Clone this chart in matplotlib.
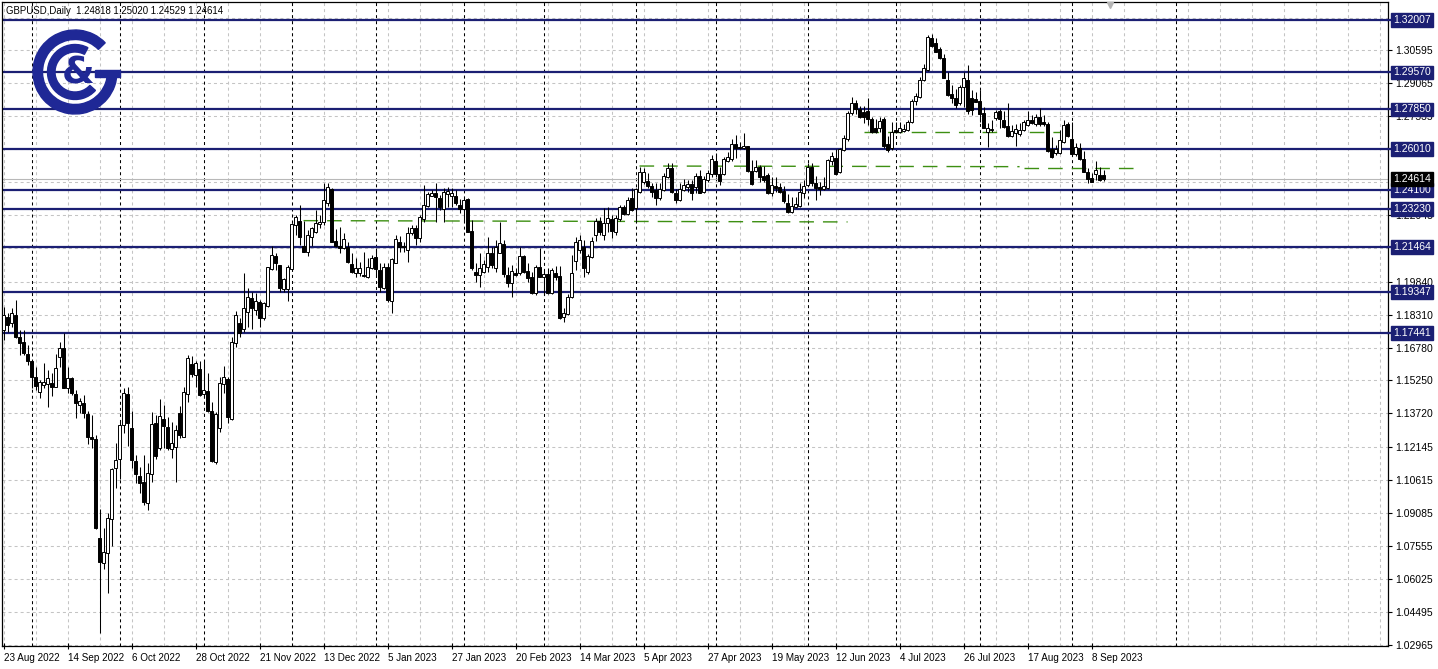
import matplotlib
matplotlib.use("Agg")
import matplotlib.pyplot as plt
from matplotlib.patches import Wedge, Rectangle
from matplotlib.transforms import offset_copy

# ---------------- data (GBPUSD daily, bar index 0 = 23 Aug 2022) ----------------
opens = [
1.1760,1.1821,1.1791,1.1830,1.1728,1.1705,1.1648,1.1617,1.1540,1.1473,
1.1505,1.1508,1.1512,1.1493,1.1633,1.1674,1.1488,1.1535,1.1462,1.1409,
1.1419,1.1369,1.1263,1.1251,1.0791,1.0678,1.0724,1.0879,1.1116,1.1158,
1.1318,1.1462,1.1302,1.1152,1.1081,1.1054,1.0956,1.1090,1.1326,1.1209,
1.1344,1.1310,1.1205,1.1217,1.1375,1.1263,1.1462,1.1601,1.1550,1.1577,
1.1462,1.1477,1.1384,1.1147,1.1302,1.1508,1.1530,1.1344,1.1698,1.1792,
1.1763,1.1845,1.1907,1.1853,1.1891,1.1814,1.1871,1.2042,1.2104,1.2062,
1.1949,1.1949,1.2042,1.2248,1.2268,1.2150,1.2124,1.2193,1.2217,1.2252,
1.2263,1.2349,1.2414,1.2175,1.2150,1.2139,1.2147,1.2066,1.2023,1.2023,
1.2015,1.2005,1.2046,1.2097,1.2039,1.1953,1.2054,1.1896,1.2072,1.2170,
1.2150,1.2132,1.2209,1.2232,1.2186,1.2274,1.2336,1.2383,1.2395,1.2372,
1.2321,1.2392,1.2383,1.2383,1.2341,1.2321,1.2367,1.2221,1.2031,1.2015,
1.2031,1.2054,1.2119,1.2046,1.2119,1.2159,1.2015,1.1980,1.2026,1.2026,
1.2104,1.2035,1.2005,1.1930,1.2054,1.2007,1.2020,1.1930,1.2023,1.2011,
1.1821,1.1834,1.1912,1.2082,1.2132,1.2144,1.2031,1.2097,1.2201,1.2268,
1.2201,1.2256,1.2274,1.2217,1.2274,1.2330,1.2299,1.2372,1.2325,1.2403,
1.2449,1.2454,1.2429,1.2411,1.2372,1.2411,1.2470,1.2511,1.2395,1.2364,
1.2411,1.2426,1.2438,1.2426,1.2476,1.2403,1.2457,1.2485,1.2547,1.2485,
1.2485,1.2547,1.2553,1.2624,1.2612,1.2604,1.2615,1.2500,1.2500,1.2519,
1.2476,1.2480,1.2398,1.2429,1.2423,1.2407,1.2351,1.2310,1.2330,1.2336,
1.2398,1.2434,1.2516,1.2444,1.2423,1.2414,1.2418,1.2547,1.2558,1.2496,
1.2597,1.2646,1.2770,1.2814,1.2786,1.2775,1.2779,1.2739,1.2697,1.2697,
1.2739,1.2624,1.2604,1.2690,1.2679,1.2685,1.2690,1.2725,1.2824,1.2844,
1.2922,1.2969,1.3119,1.3093,1.3066,1.3026,1.2922,1.2856,1.2837,1.2814,
1.2891,1.2922,1.2837,1.2834,1.2824,1.2767,1.2679,1.2690,1.2744,1.2778,
1.2736,1.2709,1.2663,1.2674,1.2669,1.2690,1.2713,1.2736,1.2716,1.2751,
1.2728,1.2716,1.2601,1.2581,1.2581,1.2632,1.2716,1.2648,1.2576,1.2607,
1.2555,1.2496,1.2468,1.2483,1.2480,1.24818]

highs = [
1.1868,1.1838,1.1860,1.1899,1.1760,1.1760,1.1690,1.1620,1.1586,1.1527,
1.1605,1.1574,1.1558,1.1648,1.1705,1.1744,1.1586,1.1542,1.1481,1.1442,
1.1457,1.1384,1.1364,1.1271,1.0926,1.0837,1.0910,1.1116,1.1233,1.1333,
1.1488,1.1493,1.1384,1.1178,1.1124,1.1178,1.1142,1.1380,1.1364,1.1437,
1.1411,1.1356,1.1333,1.1318,1.1406,1.1496,1.1643,1.1639,1.1617,1.1617,
1.1617,1.1561,1.1426,1.1380,1.1542,1.1592,1.1542,1.1726,1.1849,1.1815,
1.2023,1.1953,1.1938,1.1930,1.1899,1.1891,1.2054,1.2150,1.2116,1.2062,
1.2000,1.2062,1.2256,1.2294,1.2341,1.2268,1.2225,1.2240,1.2318,1.2294,
1.2444,1.2444,1.2418,1.2228,1.2237,1.2209,1.2170,1.2116,1.2093,1.2077,
1.2124,1.2093,1.2108,1.2139,1.2070,1.2070,1.2070,1.2093,1.2201,1.2197,
1.2170,1.2240,1.2248,1.2248,1.2294,1.2434,1.2403,1.2411,1.2442,1.2387,
1.2418,1.2426,1.2418,1.2411,1.2367,1.2372,1.2372,1.2271,1.2070,1.2116,
1.2085,1.2191,1.2144,1.2178,1.2263,1.2178,1.2051,1.2062,1.2046,1.2144,
1.2108,1.2070,1.2031,1.2062,1.2139,1.2035,1.2046,1.2046,1.2057,1.2057,
1.1860,1.1927,1.2108,1.2193,1.2201,1.2178,1.2113,1.2193,1.2279,1.2284,
1.2325,1.2333,1.2294,1.2294,1.2341,1.2341,1.2379,1.2418,1.2418,1.2519,
1.2511,1.2488,1.2444,1.2442,1.2442,1.2488,1.2535,1.2537,1.2414,1.2442,
1.2460,1.2457,1.2457,1.2488,1.2504,1.2476,1.2504,1.2573,1.2581,1.2519,
1.2563,1.2589,1.2646,1.2666,1.2635,1.2677,1.2615,1.2550,1.2550,1.2527,
1.2522,1.2488,1.2470,1.2470,1.2442,1.2429,1.2392,1.2379,1.2377,1.2442,
1.2457,1.2535,1.2535,1.2476,1.2449,1.2472,1.2553,1.2589,1.2600,1.2604,
1.2666,1.2779,1.2842,1.2829,1.2801,1.2801,1.2837,1.2751,1.2739,1.2751,
1.2749,1.2662,1.2728,1.2728,1.2727,1.2716,1.2736,1.2834,1.2860,1.2937,
1.2995,1.3131,1.3134,1.3119,1.3077,1.3041,1.2961,1.2899,1.2880,1.2899,
1.2958,1.2992,1.2876,1.2868,1.2876,1.2798,1.2721,1.2736,1.2783,1.2787,
1.2778,1.2814,1.2713,1.2716,1.2721,1.2736,1.2778,1.2759,1.2762,1.2793,
1.2759,1.2728,1.2658,1.2620,1.2690,1.2736,1.2725,1.2725,1.2628,1.2628,
1.2592,1.2514,1.2488,1.2545,1.2519,1.25020]

lows = [
1.1713,1.1752,1.1775,1.1721,1.1643,1.1643,1.1597,1.1488,1.1481,1.1442,
1.1488,1.1400,1.1453,1.1493,1.1586,1.1488,1.1465,1.1457,1.1349,1.1375,
1.1349,1.1229,1.1209,1.0833,1.0352,1.0647,1.0535,1.0755,1.1023,1.1065,
1.1279,1.1220,1.1116,1.1050,1.1000,1.0946,1.0923,1.1054,1.1158,1.1202,
1.1209,1.1202,1.1163,1.1054,1.1256,1.1263,1.1426,1.1542,1.1496,1.1453,
1.1449,1.1380,1.1147,1.1136,1.1287,1.1465,1.1328,1.1341,1.1682,1.1727,
1.1750,1.1775,1.1763,1.1829,1.1775,1.1806,1.1868,1.2039,1.2039,1.1938,
1.1938,1.1896,1.2039,1.2201,1.2155,1.2124,1.2104,1.2150,1.2209,1.2232,
1.2248,1.2336,1.2170,1.2147,1.2119,1.2135,1.2072,1.2023,1.2005,1.2011,
1.2007,1.2000,1.2042,1.2007,1.1938,1.1949,1.1891,1.1837,1.2070,1.2124,
1.2124,1.2077,1.2201,1.2155,1.2170,1.2263,1.2333,1.2383,1.2263,1.2318,
1.2263,1.2333,1.2333,1.2341,1.2302,1.2263,1.2217,1.2039,1.1984,1.1958,
1.2023,1.2031,1.2046,1.2031,1.2116,1.2007,1.1961,1.1912,1.2011,1.2015,
1.2026,1.1984,1.1927,1.1922,1.2005,1.1922,1.1927,1.1927,1.1992,1.1809,
1.1798,1.1829,1.1907,1.2039,1.2116,1.2005,1.2020,1.2093,1.2175,1.2201,
1.2178,1.2217,1.2186,1.2201,1.2268,1.2294,1.2294,1.2314,1.2263,1.2398,
1.2438,1.2418,1.2377,1.2341,1.2364,1.2407,1.2465,1.2398,1.2349,1.2361,
1.2407,1.2403,1.2364,1.2398,1.2395,1.2398,1.2449,1.2472,1.2470,1.2434,
1.2480,1.2542,1.2547,1.2558,1.2600,1.2600,1.2496,1.2434,1.2496,1.2449,
1.2449,1.2392,1.2383,1.2403,1.2398,1.2349,1.2302,1.2305,1.2325,1.2333,
1.2372,1.2429,1.2429,1.2364,1.2387,1.2411,1.2414,1.2527,1.2480,1.2491,
1.2593,1.2640,1.2759,1.2764,1.2744,1.2721,1.2713,1.2677,1.2677,1.2682,
1.2604,1.2589,1.2597,1.2674,1.2674,1.2682,1.2685,1.2721,1.2806,1.2840,
1.2917,1.2964,1.3077,1.3051,1.3020,1.2930,1.2849,1.2814,1.2793,1.2806,
1.2798,1.2763,1.2759,1.2818,1.2728,1.2697,1.2612,1.2679,1.2736,1.2697,
1.2700,1.2658,1.2658,1.2616,1.2663,1.2685,1.2710,1.2716,1.2710,1.2710,
1.2710,1.2586,1.2561,1.2573,1.2577,1.2628,1.2658,1.2573,1.2570,1.2550,
1.2493,1.2442,1.2446,1.2457,1.2452,1.24529]

closes = [
1.1830,1.1783,1.1837,1.1728,1.1700,1.1651,1.1617,1.1540,1.1499,1.1518,
1.1518,1.1535,1.1493,1.1581,1.1677,1.1488,1.1535,1.1465,1.1419,1.1431,
1.1375,1.1263,1.1251,1.0837,1.0682,1.0729,1.0884,1.1112,1.1155,1.1318,
1.1468,1.1326,1.1155,1.1090,1.1050,1.0961,1.1096,1.1322,1.1174,1.1360,
1.1313,1.1209,1.1233,1.1295,1.1271,1.1473,1.1628,1.1555,1.1607,1.1457,
1.1481,1.1384,1.1152,1.1369,1.1512,1.1540,1.1354,1.1705,1.1830,1.1746,
1.1860,1.1914,1.1860,1.1896,1.1814,1.1884,1.2051,1.2108,1.2072,1.1953,
1.1995,1.2054,1.2252,1.2284,1.2193,1.2124,1.2201,1.2232,1.2256,1.2263,
1.2364,1.2426,1.2170,1.2150,1.2139,1.2181,1.2077,1.2031,1.2046,1.2046,
1.2011,1.2051,1.2093,1.2042,1.1961,1.2054,1.1899,1.2088,1.2181,1.2144,
1.2144,1.2209,1.2232,1.2186,1.2286,1.2341,1.2392,1.2398,1.2377,1.2330,
1.2403,1.2407,1.2398,1.2349,1.2321,1.2364,1.2217,1.2046,1.2015,1.2046,
1.2066,1.2116,1.2062,1.2144,1.2163,1.2020,1.1977,1.2035,1.2015,1.2104,
1.2031,1.2000,1.1930,1.2054,1.2007,1.2020,1.1933,1.2039,1.2007,1.1814,
1.1837,1.1912,1.2023,1.2170,1.2178,1.2046,1.2104,1.2175,1.2268,1.2217,
1.2258,1.2279,1.2221,1.2279,1.2330,1.2299,1.2364,1.2318,1.2414,1.2496,
1.2496,1.2429,1.2403,1.2372,1.2414,1.2476,1.2511,1.2403,1.2364,1.2414,
1.2434,1.2438,1.2398,1.2476,1.2398,1.2460,1.2488,1.2553,1.2485,1.2454,
1.2553,1.2563,1.2624,1.2604,1.2604,1.2615,1.2500,1.2438,1.2519,1.2472,
1.2457,1.2398,1.2434,1.2418,1.2403,1.2361,1.2310,1.2336,1.2345,1.2403,
1.2429,1.2516,1.2444,1.2418,1.2414,1.2429,1.2550,1.2569,1.2485,1.2600,
1.2651,1.2770,1.2814,1.2786,1.2751,1.2751,1.2739,1.2682,1.2682,1.2733,
1.2615,1.2597,1.2682,1.2680,1.2697,1.2694,1.2728,1.2824,1.2849,1.2922,
1.2979,1.3123,1.3081,1.3054,1.3023,1.2933,1.2852,1.2837,1.2806,1.2891,
1.2933,1.2778,1.2783,1.2821,1.2762,1.2700,1.2700,1.2696,1.2775,1.2741,
1.2705,1.2663,1.2685,1.2694,1.2690,1.2725,1.2736,1.2721,1.2751,1.2716,
1.2716,1.2592,1.2565,1.2601,1.2643,1.2713,1.2663,1.2576,1.2612,1.2555,
1.2496,1.2462,1.2449,1.2504,1.2457,1.24614]

date_labels = ["23 Aug 2022", "14 Sep 2022", "6 Oct 2022", "28 Oct 2022", "21 Nov 2022",
               "13 Dec 2022", "5 Jan 2023", "27 Jan 2023", "20 Feb 2023", "14 Mar 2023",
               "5 Apr 2023", "27 Apr 2023", "19 May 2023", "12 Jun 2023", "4 Jul 2023",
               "26 Jul 2023", "17 Aug 2023", "8 Sep 2023"]
date_label_bars = [0, 16, 32, 48, 64, 80, 96, 112, 128, 144, 160, 176, 192, 208, 224, 240, 256, 272]
month_sep_bars = [7, 29, 50, 72, 93, 115, 135, 158, 178, 201, 223, 244, 267, 293]

level_prices = [1.32007, 1.29570, 1.27850, 1.26010, 1.24100, 1.23230, 1.21464, 1.19347, 1.17441]
grid_prices = [1.02965, 1.04495, 1.06025, 1.07555, 1.09085, 1.10615, 1.12145, 1.13720, 1.15250,
               1.16780, 1.18310, 1.19840, 1.21414, 1.22945, 1.24475, 1.26005, 1.27535, 1.29065,
               1.30595, 1.32125]
grid_labels_shown = [1.02965, 1.04495, 1.06025, 1.07555, 1.09085, 1.10615, 1.12145, 1.13720,
                     1.15250, 1.16780, 1.18310, 1.19840, 1.22945, 1.27535, 1.29065, 1.30595]
# support / resistance dashed segments: (start bar, end bar, start price, end price)
green_segments = [(75, 211, 1.2268, 1.2262),
                  (159, 254, 1.2522, 1.2519),
                  (255, 283.5, 1.2512, 1.2512),
                  (215, 264, 1.2680, 1.2680)]
last_price = 1.24614
header = "GBPUSD,Daily  1.24818 1.25020 1.24529 1.24614"

assert len(opens) == len(highs) == len(lows) == len(closes)

# ---------------- figure ----------------
W, H = 1438, 669
fig = plt.figure(figsize=(W / 100, H / 100), dpi=100)
ax = fig.add_axes([2 / W, 23.5 / H, 1386 / W, 643.5 / H])
ax.set_xlim(-0.375, 346.1)
ax.set_ylim(1.02924, 1.32847)
for s in ax.spines.values():
    s.set_color("black")
    s.set_linewidth(0.9)

navy = "#1b1f73"
font = "Liberation Sans"

# grid
for g in grid_prices:
    ax.axhline(g, color="#c4c4c4", lw=0.75, ls=(0, (2.9, 2.9)), zorder=1)
for b in range(0, 346, 8):
    ax.axvline(b, color="#c4c4c4", lw=0.75, ls=(0, (2.9, 2.9)), zorder=1)
for b in month_sep_bars:
    ax.axvline(b, color="black", lw=0.75, ls=(0, (2.9, 2.9)), zorder=1.5)

# current price line
ax.axhline(last_price, color="#b8b8b8", lw=0.8, zorder=1.6)

# level lines (with a short stub reaching the price box)
ytr = ax.get_yaxis_transform()
for p in level_prices:
    ax.axhline(p, color=navy, lw=1.6, zorder=2)
    ax.plot([1.0, 1.0 + 5 / 1386], [p, p], transform=ytr, color=navy, lw=1.6,
            clip_on=False, zorder=9)

# green dashed segments
for x0, x1, p0, p1 in green_segments:
    ax.plot([x0, x1], [p0, p1], color="#3d8f12", lw=1.0, ls=(0, (10.5, 6.5)), zorder=2.5)

# candles
n = len(opens)
idx = list(range(n))
ax.vlines(idx, lows, highs, color="black", lw=0.75, zorder=3)
bottoms = [min(o, c) for o, c in zip(opens, closes)]
heights = [max(abs(c - o), 0.00012) for o, c in zip(opens, closes)]
colors = ["white" if c >= o else "black" for o, c in zip(opens, closes)]
ax.bar(idx, heights, bottom=bottoms, width=0.55, color=colors, edgecolor="black",
       linewidth=0.7, zorder=4)

# axes ticks / labels
ax.yaxis.tick_right()
ax.set_yticks(grid_labels_shown)
ax.set_yticklabels([f"{v:.5f}" for v in grid_labels_shown], fontsize=7.5, family=font)
ax.tick_params(axis="y", direction="out", length=3, width=0.8, pad=2)
ax.set_xticks(date_label_bars)
ax.set_xticklabels(date_labels, fontsize=7.1, family=font)
for lbl in ax.get_xticklabels():
    lbl.set_horizontalalignment("left")
ax.tick_params(axis="x", direction="inout", length=5, width=0.8, pad=3)

# price boxes on the right
tr = offset_copy(ytr, fig=fig, x=5, y=0, units="dots")
for p in level_prices:
    ax.text(1.0, p, f"{p:.5f}", transform=tr, ha="left", va="center", color="white",
            fontsize=7.5, family=font, clip_on=False, zorder=10,
            bbox=dict(boxstyle="square,pad=0.18", fc=navy, ec=navy))
ax.text(1.0, last_price, f"{last_price:.5f}", transform=tr, ha="left", va="center",
        color="white", fontsize=7.5, family=font, clip_on=False, zorder=11,
        bbox=dict(boxstyle="square,pad=0.18", fc="black", ec="black"))

# header text
ax.text(4 / 1386, 1 - 9 / 643.5, header, transform=ax.transAxes, ha="left", va="center",
        fontsize=6.9, family=font, zorder=12)

# shift marker
ax.plot([276.6], [1.3271], marker="v", color="#b5b5b5", ms=5, clip_on=False, zorder=12)

# logo
lax = fig.add_axes([(75 - 50) / W, 1 - (72 + 50) / H, 100 / W, 100 / H])
lax.set_xlim(-50, 50)
lax.set_ylim(-50, 50)
lax.axis("off")
logo_c = "#1f2896"
lax.add_patch(Wedge((0, 0), 42, 44, 360, width=9.5, color=logo_c))
lax.add_patch(Rectangle((20, -5), 25, 7.5, color=logo_c))
lax.add_patch(Wedge((0, 0), 27.5, 62, 318, width=7.5, color=logo_c))
lax.text(3, -1, "&", fontsize=27, fontweight="bold", ha="center", va="center", color=logo_c,
         family="DejaVu Sans")

fig.savefig("out.png", dpi=100)
